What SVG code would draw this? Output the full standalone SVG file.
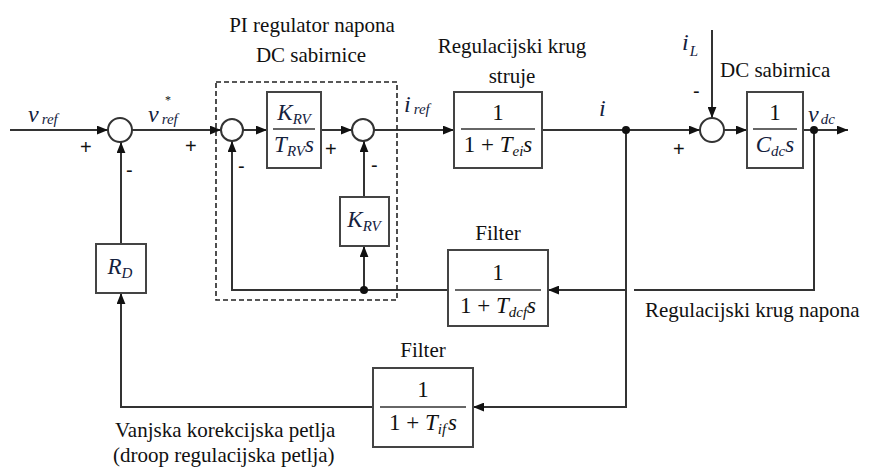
<svg xmlns="http://www.w3.org/2000/svg" width="870" height="468" viewBox="0 0 870 468">
<defs>
<marker id="ah" viewBox="0 0 10 8" refX="10" refY="4" markerWidth="11" markerHeight="9" markerUnits="userSpaceOnUse" orient="auto">
<path d="M0,0 L10,4 L0,8 Z" fill="#111"/>
</marker>
<style>
.ln{fill:none;stroke:#333;stroke-width:2}
.ar{fill:none;stroke:#333;stroke-width:2;marker-end:url(#ah)}
.bx{fill:#fff;stroke:#444;stroke-width:2}
.sum{fill:#fff;stroke:#333;stroke-width:2}
.dot{fill:#111}
</style>
</defs>
<rect width="870" height="468" fill="#fff"/>

<g id="connectors">
<line class="ar" x1="10" y1="130" x2="108" y2="130"/>
<line class="ar" x1="132" y1="130" x2="221" y2="130"/>
<line class="ar" x1="243" y1="130" x2="267" y2="130"/>
<line class="ar" x1="321" y1="130" x2="352" y2="130"/>
<line class="ar" x1="374" y1="130" x2="454" y2="130"/>
<line class="ar" x1="542" y1="130" x2="700" y2="130"/>
<line class="ar" x1="724" y1="130" x2="747" y2="130"/>
<line class="ar" x1="803" y1="130" x2="848" y2="130"/>
<line class="ar" x1="712" y1="30" x2="712" y2="118"/>
<polyline class="ln" points="814,130 814,290 634,290"/>
<line class="ar" x1="626" y1="290" x2="548" y2="290"/>
<polyline class="ar" points="448,290 232,290 232,141"/>
<line class="ar" x1="364" y1="290" x2="364" y2="246"/>
<line class="ar" x1="364" y1="197" x2="364" y2="141"/>
<polyline class="ar" points="626,130 626,407 473,407"/>
<polyline class="ar" points="373,407 121,407 121,293"/>
<line class="ar" x1="121" y1="244" x2="121" y2="142"/>
<circle class="dot" cx="364" cy="290" r="4"/>
<circle class="dot" cx="626" cy="130" r="4"/>
<circle class="dot" cx="814" cy="130" r="4"/>
</g>

<g font-family="Liberation Serif, Times New Roman, serif" fill="#111">
<g id="pi_group" font-size="21">
<rect x="216" y="82" width="181" height="218" fill="none" stroke="#222" stroke-width="1.6" stroke-dasharray="5,3"/>
<text x="312" y="32" text-anchor="middle">PI regulator napona</text>
<text x="311" y="62" text-anchor="middle">DC sabirnice</text>
</g>

<g id="sum1">
<circle class="sum" cx="120" cy="130" r="12"/>
<text x="28" y="122" font-style="italic" font-size="24" fill="#14213d">v<tspan font-size="15" dx="3" dy="2">ref</tspan></text>
<text x="80" y="154" font-family="Liberation Sans, sans-serif" font-size="20">+</text>
<text x="126" y="177" font-family="Liberation Sans, sans-serif" font-size="20">-</text>
</g>

<g id="vref_star">
<text x="148" y="122" font-style="italic" font-size="24" fill="#14213d">v<tspan font-size="15" dx="3" dy="2">ref</tspan></text>
<text x="165" y="104" font-size="12">*</text>
<text x="185" y="153" font-family="Liberation Sans, sans-serif" font-size="20">+</text>
</g>

<g id="sum2">
<circle class="sum" cx="232" cy="130" r="11"/>
<text x="238" y="173" font-family="Liberation Sans, sans-serif" font-size="20">-</text>
</g>

<g id="pi_block" font-style="italic" fill="#14213d">
<rect class="bx" x="267" y="92" width="54" height="76"/>
<text x="294" y="120" text-anchor="middle" font-size="23">K<tspan font-size="15" dy="4">RV</tspan></text>
<line x1="273" y1="129" x2="315" y2="129" stroke="#333" stroke-width="1.5"/>
<text x="294" y="152" text-anchor="middle" font-size="23">T<tspan font-size="15" dy="4">RV</tspan><tspan dy="-4">s</tspan></text>
</g>

<g id="sum3">
<circle class="sum" cx="363" cy="130" r="11"/>
<text x="325" y="156" font-family="Liberation Sans, sans-serif" font-size="20">+</text>
<text x="371" y="172" font-family="Liberation Sans, sans-serif" font-size="20">-</text>
</g>

<g id="krv_block" font-style="italic" fill="#14213d">
<rect class="bx" x="340" y="197" width="49" height="49"/>
<text x="364" y="227" text-anchor="middle" font-size="23">K<tspan font-size="15" dy="4">RV</tspan></text>
</g>

<g id="current_loop">
<text x="512" y="53" text-anchor="middle" font-size="21">Regulacijski krug</text>
<text x="512" y="83" text-anchor="middle" font-size="21">struje</text>
<text x="404" y="112" font-style="italic" font-size="24" fill="#14213d">i<tspan font-size="15" dx="3" dy="2">ref</tspan></text>
<rect class="bx" x="454" y="92" width="88" height="76"/>
<text x="498" y="120" text-anchor="middle" font-size="23">1</text>
<line x1="461" y1="129" x2="535" y2="129" stroke="#333" stroke-width="1.5"/>
<text x="498" y="152" text-anchor="middle" font-size="23">1 + <tspan font-style="italic">T</tspan><tspan font-style="italic" font-size="15" dy="4">ei</tspan><tspan font-style="italic" dy="-4">s</tspan></text>
<text x="599" y="116" font-style="italic" font-size="24" fill="#14213d">i</text>
</g>

<g id="sum4">
<circle class="sum" cx="712" cy="130" r="12"/>
<text x="682" y="50" font-style="italic" font-size="24" fill="#14213d">i<tspan font-size="15" dx="1" dy="6">L</tspan></text>
<text x="693" y="98" font-family="Liberation Sans, sans-serif" font-size="20">-</text>
<text x="673" y="156" font-family="Liberation Sans, sans-serif" font-size="20">+</text>
<text x="720" y="77" font-size="21">DC sabirnica</text>
</g>

<g id="dc_bus">
<rect class="bx" x="747" y="92" width="56" height="76"/>
<text x="775" y="120" text-anchor="middle" font-size="23">1</text>
<line x1="753" y1="129" x2="797" y2="129" stroke="#333" stroke-width="1.5"/>
<text x="775" y="152" text-anchor="middle" font-style="italic" font-size="23" fill="#14213d">C<tspan font-size="15" dy="4">dc</tspan><tspan dy="-4">s</tspan></text>
<text x="808" y="122" font-style="italic" font-size="24" fill="#14213d">v<tspan font-size="15" dx="2" dy="2">dc</tspan></text>
</g>

<g id="filter_dc">
<text x="498" y="240" text-anchor="middle" font-size="21">Filter</text>
<rect class="bx" x="448" y="250" width="100" height="76"/>
<text x="498" y="280" text-anchor="middle" font-size="23">1</text>
<line x1="455" y1="290" x2="541" y2="290" stroke="#333" stroke-width="1.5"/>
<text x="498" y="313" text-anchor="middle" font-size="23">1 + <tspan font-style="italic">T</tspan><tspan font-style="italic" font-size="15" dy="4">dcf</tspan><tspan font-style="italic" dy="-4">s</tspan></text>
<text x="645" y="317" font-size="21">Regulacijski krug napona</text>
</g>

<g id="rd_block">
<rect class="bx" x="96" y="244" width="50" height="49"/>
<text x="120" y="274" text-anchor="middle" font-style="italic" font-size="23" fill="#14213d">R<tspan font-size="15" dy="4">D</tspan></text>
</g>

<g id="filter_i">
<text x="423" y="357" text-anchor="middle" font-size="21">Filter</text>
<rect class="bx" x="373" y="368" width="100" height="79"/>
<text x="423" y="397" text-anchor="middle" font-size="23">1</text>
<line x1="380" y1="407" x2="466" y2="407" stroke="#333" stroke-width="1.5"/>
<text x="423" y="430" text-anchor="middle" font-size="23">1 + <tspan font-style="italic">T</tspan><tspan font-style="italic" font-size="15" dy="4">if</tspan><tspan font-style="italic" dx="2" dy="-4">s</tspan></text>
<text x="115" y="437" font-size="21">Vanjska korekcijska petlja</text>
<text x="113" y="462" font-size="21">(droop regulacijska petlja)</text>
</g>
</g>
</svg>
